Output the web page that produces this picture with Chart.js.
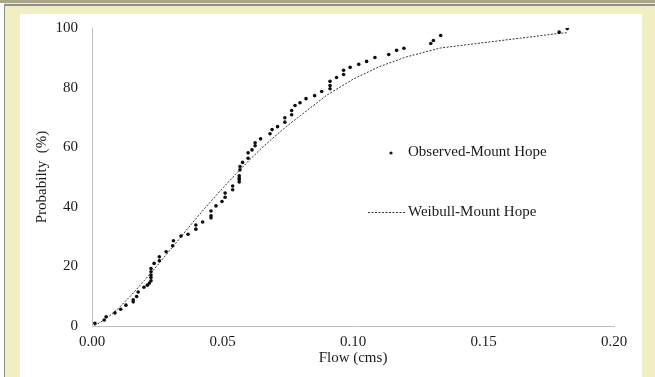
<!DOCTYPE html>
<html lang="en">
<head>
  <meta charset="UTF-8">
  <title>Flow probability - Mount Hope</title>
  <script src="https://cdn.jsdelivr.net/npm/chart.js@4.4.1/dist/chart.umd.min.js"></script>
  <style>
    html, body {
      margin: 0;
      padding: 0;
      width: 655px;
      height: 377px;
      overflow: hidden;
      background: #f0eec2;
      position: relative;
    }
    .band-top {
      position: absolute; left: 0; top: 0; width: 655px; height: 3px;
      background: #a9a68a;
    }
    .line-top {
      position: absolute; left: 4px; top: 4px; width: 651px; height: 2px;
      background: #8f8f8f;
    }
    .strip-left {
      position: absolute; left: 0; top: 3px; width: 4px; height: 374px;
      background: #ffffff;
    }
    .line-left {
      position: absolute; left: 4px; top: 4px; width: 1px; height: 373px;
      background: #8f8f8f;
    }
    .sheet {
      position: absolute; left: 20px; top: 14px; width: 622px; height: 363px;
      background: #ffffff;
    }
    #flowChart {
      position: absolute;
      left: 20px;
      top: 5px;
    }
  </style>
</head>
<body>
  <div class="band-top"></div>
  <div class="line-top"></div>
  <div class="strip-left"></div>
  <div class="line-left"></div>
  <div class="sheet"></div>
  <canvas id="flowChart" width="622" height="372"></canvas>

  <script>
    // observed flows (cms) and their plotting probability (%)
    const flowObserved = [
      0.0011, 0.0047, 0.0054, 0.0088, 0.0110, 0.0130, 0.0158, 0.0158, 0.0171, 0.0177,
      0.0199, 0.0212, 0.0220, 0.0226, 0.0226, 0.0226, 0.0226, 0.0226, 0.0238, 0.0258,
      0.0258, 0.0284, 0.0309, 0.0312, 0.0341, 0.0368, 0.0398, 0.0398, 0.0424, 0.0456,
      0.0456, 0.0456, 0.0475, 0.0498, 0.0510, 0.0510, 0.0539, 0.0539, 0.0564, 0.0564,
      0.0564, 0.0564, 0.0567, 0.0567, 0.0577, 0.0598, 0.0598, 0.0613, 0.0625, 0.0625,
      0.0646, 0.0682, 0.0690, 0.0711, 0.0739, 0.0739, 0.0765, 0.0765, 0.0778, 0.0797,
      0.0820, 0.0853, 0.0880, 0.0912, 0.0912, 0.0912, 0.0937, 0.0964, 0.0964, 0.0989,
      0.1022, 0.1052, 0.1084, 0.1137, 0.1167, 0.1195, 0.1298, 0.1308, 0.1336, 0.1790,
      0.1821
    ];
    const probObserved = [
      0.9, 2.0, 3.1, 4.4, 5.6, 7.0, 8.1, 8.8, 9.9, 11.4,
      13.0, 13.7, 14.4, 15.2, 16.3, 17.1, 18.2, 19.3, 21.0, 21.9,
      23.2, 24.9, 26.9, 28.6, 30.2, 30.8, 32.5, 33.9, 34.9, 36.3,
      37.0, 38.6, 40.3, 41.8, 43.2, 44.6, 45.7, 47.0, 48.3, 49.1,
      49.7, 50.4, 52.4, 53.5, 54.9, 56.3, 58.1, 59.1, 60.5, 61.5,
      62.8, 64.5, 65.9, 66.9, 68.4, 69.9, 70.9, 72.3, 74.0, 74.9,
      76.3, 77.3, 78.7, 79.6, 80.7, 82.1, 83.4, 84.4, 85.8, 86.8,
      87.8, 88.8, 90.1, 91.1, 92.5, 93.2, 94.8, 95.8, 97.5, 98.6,
      99.8
    ];

    // fitted Weibull curve
    const flowWeibull = [
      0.001, 0.005, 0.010, 0.015, 0.020, 0.025, 0.030, 0.035, 0.040, 0.045,
      0.050, 0.055, 0.060, 0.065, 0.070, 0.075, 0.080, 0.090, 0.100, 0.110,
      0.120, 0.1336, 0.179, 0.182
    ];
    const probWeibull = [
      0.2, 2.2, 5.8, 10.3, 15.2, 20.3, 25.6, 30.9, 36.2, 41.3,
      46.2, 50.9, 55.4, 59.7, 63.6, 67.3, 70.7, 77.5, 82.8, 87.0,
      90.2, 93.3, 98.2, 98.4
    ];

    const xTicks = [0, 0.05, 0.10, 0.15, 0.20];
    const yTicks = [0, 20, 40, 60, 80, 100];

    const seriesNames = ['Observed-Mount Hope', 'Weibull-Mount Hope'];

    const serif = "'Liberation Serif', 'Times New Roman', serif";
    const inkColor = '#1a1a1a';

    // legend sits inside the plot, right of centre
    const legendPlugin = {
      id: 'innerLegend',
      afterDraw(chart) {
        const ctx = chart.ctx;
        const area = chart.chartArea;
        ctx.save();
        ctx.font = '15px ' + serif;
        ctx.fillStyle = inkColor;
        ctx.textBaseline = 'middle';

        // observed marker
        const y1 = area.top + 124;
        ctx.beginPath();
        ctx.arc(area.left + 299, y1 + 1, 1.6, 0, Math.PI * 2);
        ctx.fill();
        ctx.fillText(seriesNames[0], area.left + 316, y1);

        // weibull dashes
        const y2 = area.top + 184;
        ctx.strokeStyle = '#333333';
        ctx.lineWidth = 1;
        ctx.setLineDash([2, 1.5]);
        ctx.beginPath();
        ctx.moveTo(area.left + 276, y2 + 0.5);
        ctx.lineTo(area.left + 313, y2 + 0.5);
        ctx.stroke();
        ctx.setLineDash([]);
        ctx.fillText(seriesNames[1], area.left + 316, y2);
        ctx.restore();
      }
    };

    const ctx = document.getElementById('flowChart').getContext('2d');

    new Chart(ctx, {
      type: 'scatter',
      data: {
        datasets: [
          {
            label: seriesNames[0],
            data: flowObserved.map((x, i) => ({ x: x, y: probObserved[i] })),
            pointRadius: 1.8,
            pointBackgroundColor: '#0d0d0d',
            pointBorderWidth: 0,
            showLine: false,
            order: 1
          },
          {
            label: seriesNames[1],
            data: flowWeibull.map((x, i) => ({ x: x, y: probWeibull[i] })),
            showLine: true,
            borderColor: '#333333',
            borderWidth: 1,
            borderDash: [2, 1.5],
            pointRadius: 0,
            tension: 0,
            order: 2
          }
        ]
      },
      options: {
        responsive: false,
        animation: false,
        layout: { padding: { left: 0, right: 28, top: 5, bottom: 0 } },
        plugins: {
          legend: { display: false },
          tooltip: { enabled: false }
        },
        scales: {
          x: {
            type: 'linear',
            min: 0,
            max: 0.2,
            afterBuildTicks: (scale) => { scale.ticks = xTicks.map(v => ({ value: v })); },
            afterFit: (scale) => { scale.height = 51; },
            grid: { display: false, drawTicks: false },
            border: { display: true, color: '#bfbfbf', width: 1 },
            ticks: {
              padding: 7,
              color: inkColor,
              font: { family: serif, size: 15 },
              callback: (v) => Number(v).toFixed(2),
              maxRotation: 0
            },
            title: {
              display: true,
              text: 'Flow (cms)',
              color: inkColor,
              font: { family: serif, size: 15 },
              padding: { top: 0, bottom: 10 }
            }
          },
          y: {
            min: 0,
            max: 100,
            afterBuildTicks: (scale) => { scale.ticks = yTicks.map(v => ({ value: v })); },
            afterFit: (scale) => { scale.width = 72; },
            grid: { display: false, drawTicks: false },
            border: { display: true, color: '#bfbfbf', width: 1 },
            ticks: {
              padding: 14,
              color: inkColor,
              font: { family: serif, size: 15 }
            },
            title: {
              display: true,
              text: 'Probabilty  (%)',
              color: inkColor,
              font: { family: serif, size: 15 },
              padding: { top: 13, bottom: 0 }
            }
          }
        }
      },
      plugins: [legendPlugin]
    });
  </script>
</body>
</html>
